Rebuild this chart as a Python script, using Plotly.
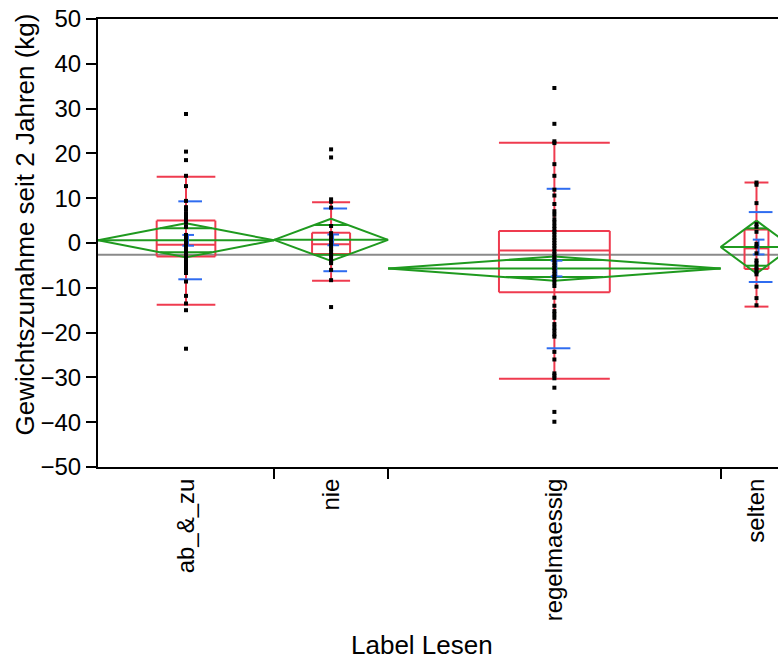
import math
import plotly.graph_objects as go

# Gewichtszunahme nach Lesegewohnheit (Oneway-Analyse)
groups = ["ab_&_zu", "nie", "regelmaessig", "selten"]
group_n = [54, 35, 102, 22]

# Mittelwerte, 95%-Konfidenzintervall (gepoolt), Standardabweichung, Standardfehler
means = [0.6, 0.7, -5.7, -0.9]
ci95 = [3.8, 4.7, 2.7, 5.9]
sd = [8.7, 7.0, 17.8, 7.8]
se = [1.2, 1.2, 1.75, 1.65]

# Quantile (10 %, 25 %, Median, 75 %, 90 %)
q10 = [-13.8, -8.4, -30.3, -14.2]
q25 = [-3.0, -2.45, -11.0, -5.8]
median = [-0.4, -0.3, -1.7, -1.2]
q75 = [5.0, 2.3, 2.7, 3.0]
q90 = [14.8, 9.1, 22.4, 13.5]

grand_mean = -2.6

# Einzelwerte je Gruppe
values_ab_zu = [28.8, 20.4, 18.5, 15.0, 12.7, 9.4, 8.0, 7.4, 6.6, 6.1, 5.7, 5.1, 4.5,
                3.6, 1.8, 1.2, 0.8, 0.2, -0.4, -0.9, -1.1, -1.8, -2.3, -2.5, -3.1,
                -3.8, -4.3, -4.5, -5.1, -5.8, -6.2, -6.7, -8.6, -11.8, -13.5, -15.0,
                -23.6]
values_nie = [20.9, 19.1, 9.75, 9.2, 7.9, 3.8, 2.2, 1.4, 0.7, 0.0, -0.6, -1.3,
              -2.0, -2.7, -3.3, -4.0, -4.5, -6.0, -8.3, -14.3]
values_regelmaessig = [34.6, 26.6, 22.7, 22.3, 17.6, 15.0, 11.9, 10.6, 8.7, 7.1,
                       6.3, 5.3, 4.6, 3.8, 3.1, 2.5, 1.9, 1.2, 0.6, 0.0, -0.6,
                       -1.2, -1.9, -2.5, -3.1, -3.7, -4.4, -5.0, -5.6, -6.2, -6.9,
                       -7.5, -8.1, -8.8, -9.6, -12.2, -14.0, -15.2, -15.9, -16.7,
                       -18.1, -18.9, -19.6, -20.4, -20.9, -24.3, -26.0, -29.1,
                       -29.6, -30.2, -32.3, -37.7, -39.9]
values_selten = [13.5, 13.0, 8.9, 4.2, 3.6, 2.5, -0.2, -0.8, -2.3, -3.9, -4.5,
                 -5.3, -5.9, -6.4, -7.0, -9.75, -12.3, -13.9]
group_values = [values_ab_zu, values_nie, values_regelmaessig, values_selten]

# Gruppenbreiten proportional zum Stichprobenumfang
starts, ends = [], []
pos = 0
for n in group_n:
    starts.append(pos)
    pos += n
    ends.append(pos)
centers = [(a + b) / 2 for a, b in zip(starts, ends)]

X_MAX = 208.6
PLOT_W = 680
U = X_MAX / PLOT_W  # Dateneinheiten je Pixel

RED = "#ef3b4f"
GREEN = "#1f9a1f"
BLUE = "#2f6cf0"
GRAY = "#8a8a8a"
FONT = "Liberation Sans, Arial, sans-serif"


def segs(lines):
    xs, ys = [], []
    for (x0, y0, x1, y1) in lines:
        xs += [x0, x1, None]
        ys += [y0, y1, None]
    return xs, ys


fig = go.Figure()

# Gesamtmittelwert
fig.add_trace(go.Scatter(x=[0, X_MAX], y=[grand_mean, grand_mean], mode="lines",
                         line=dict(color=GRAY, width=2), hoverinfo="skip"))

# Quantilboxen
red = []
for i, c in enumerate(centers):
    hw = group_n[i] / 6
    red += [
        (c - hw, q25[i], c + hw, q25[i]),
        (c + hw, q25[i], c + hw, q75[i]),
        (c + hw, q75[i], c - hw, q75[i]),
        (c - hw, q75[i], c - hw, q25[i]),
        (c - hw, median[i], c + hw, median[i]),
        (c, q10[i], c, q90[i]),
        (c - hw, q10[i], c + hw, q10[i]),
        (c - hw, q90[i], c + hw, q90[i]),
    ]
xs, ys = segs(red)
fig.add_trace(go.Scatter(x=xs, y=ys, mode="lines", line=dict(color=RED, width=2),
                         hoverinfo="skip"))

# Mittelwert-Rauten
green = []
for i, c in enumerate(centers):
    a, b, m, h = starts[i], ends[i], means[i], ci95[i]
    green += [
        (a, m, c, m + h), (c, m + h, b, m), (b, m, c, m - h), (c, m - h, a, m),
        (a, m, b, m),
    ]
    off = h / math.sqrt(2)
    hw = (b - a) / 2 * (1 - 1 / math.sqrt(2))
    green += [(c - hw, m + off, c + hw, m + off), (c - hw, m - off, c + hw, m - off)]
xs, ys = segs(green)
fig.add_trace(go.Scatter(x=xs, y=ys, mode="lines", line=dict(color=GREEN, width=2),
                         hoverinfo="skip"))

# Standardabweichung und Standardfehler
blue = []
for i, c in enumerate(centers):
    m = means[i]
    blue += [
        (c - 7.7 * U, m + sd[i], c + 16 * U, m + sd[i]),
        (c - 7.7 * U, m - sd[i], c + 16 * U, m - sd[i]),
        (c - 3.7 * U, m + se[i], c + 8 * U, m + se[i]),
        (c - 3.7 * U, m - se[i], c + 8 * U, m - se[i]),
        (c + 2 * U, m - se[i], c + 2 * U, m + se[i]),
    ]
xs, ys = segs(blue)
fig.add_trace(go.Scatter(x=xs, y=ys, mode="lines", line=dict(color=BLUE, width=2),
                         hoverinfo="skip"))

# Einzelpunkte
px, py = [], []
for c, vals in zip(centers, group_values):
    px += [c] * len(vals)
    py += vals
fig.add_trace(go.Scatter(x=px, y=py, mode="markers",
                         marker=dict(symbol="square", size=4, color="black",
                                     line=dict(width=0)),
                         hoverinfo="skip"))

fig.update_layout(
    width=778, height=661,
    margin=dict(l=98, r=0, t=19, b=194),
    paper_bgcolor="white", plot_bgcolor="white",
    showlegend=False,
    font=dict(family=FONT, color="black"),
    xaxis=dict(
        range=[0, X_MAX], showgrid=False, zeroline=False,
        showline=True, linecolor="black", linewidth=2, mirror=True,
        tickmode="array", tickvals=centers, ticktext=groups,
        ticks="outside", ticklen=0, tickcolor="rgba(0,0,0,0)",
        tickangle=-90, tickfont=dict(size=24, family=FONT),
        minor=dict(tickmode="array", tickvals=ends[:-1], ticks="outside",
                   ticklen=10, tickwidth=2, tickcolor="black"),
    ),
    yaxis=dict(
        range=[-50, 50], dtick=10, showgrid=False, zeroline=False,
        showline=True, linecolor="black", linewidth=2, mirror=False,
        ticks="outside", ticklen=10, tickwidth=2, tickcolor="black",
        tickfont=dict(size=24, family=FONT),
    ),
    annotations=[
        dict(text="Label Lesen", xref="paper", yref="paper",
             x=(422 - 98) / PLOT_W, y=(467 - 645) / 448,
             xanchor="center", yanchor="middle", showarrow=False,
             font=dict(size=26, family=FONT)),
        dict(text="Gewichtszunahme seit 2 Jahren (kg)", xref="paper", yref="paper",
             x=(25 - 98) / PLOT_W, y=(467 - 224.5) / 448, textangle=-90,
             xanchor="center", yanchor="middle", showarrow=False,
             font=dict(size=26, family=FONT)),
    ],
)

fig.write_html("out.html")
